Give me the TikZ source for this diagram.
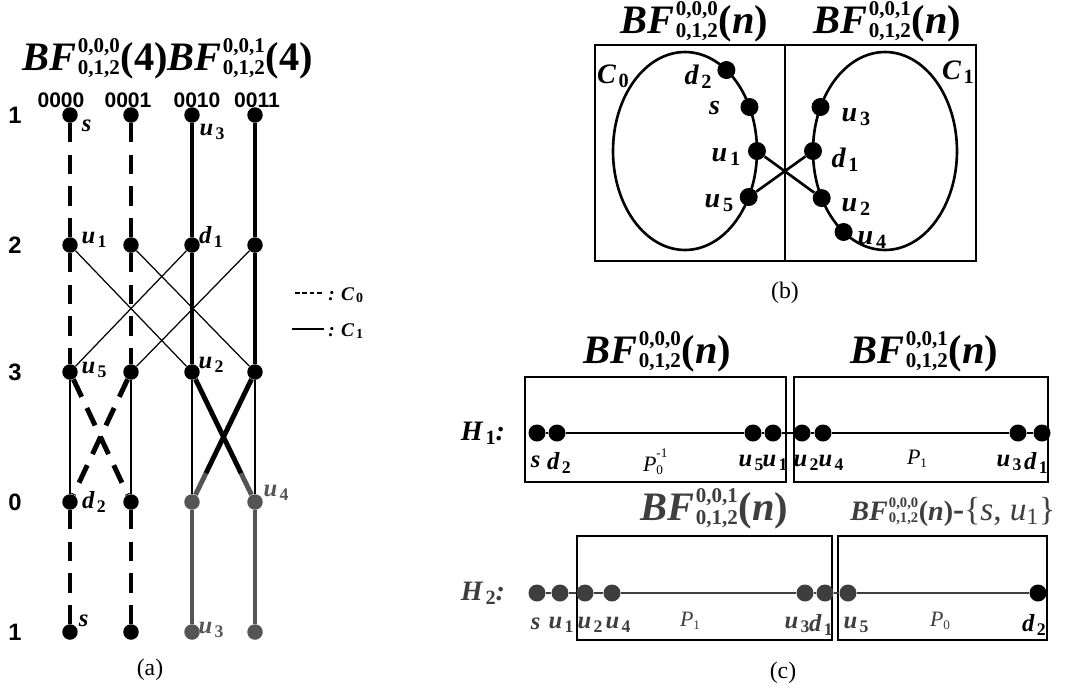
\documentclass[tikz,border=0pt]{standalone}
\usepackage{fontspec}
\usepackage{graphicx}
\setmainfont{Liberation Serif}
\setsansfont{Liberation Sans}
\usetikzlibrary{calc}
\definecolor{agray}{RGB}{85,85,85}
\definecolor{hgray}{RGB}{62,62,62}
\tikzset{
    dot/.style={circle, fill, inner sep=0pt, minimum size=0.31cm},
    bdot/.style={dot, minimum size=0.36cm},
    cdot/.style={dot, minimum size=0.34cm},
    cdash/.style={line width=2.8pt, dash pattern=on 11pt off 7pt},
    csolid/.style={line width=2.8pt},
    wire/.style={line width=0.7pt},
    curve/.style={line width=1.5pt},
    hpath/.style={line width=1.2pt},
    frame/.style={line width=0.85pt},
    lab/.style={font=\fontsize{14}{16}\selectfont\bfseries\itshape, inner sep=0pt},
    blab/.style={lab, font=\fontsize{16}{18}\selectfont\bfseries\itshape},
    clab/.style={lab, font=\fontsize{14}{16}\selectfont\bfseries\itshape},
    klab/.style={lab, font=\fontsize{11}{13}\selectfont\bfseries\itshape},
    hlab/.style={lab, font=\fontsize{16}{18}\selectfont\bfseries\itshape},
    plab/.style={font=\fontsize{12.5}{14}\selectfont\itshape, inner sep=0pt},
    title/.style={font=\fontsize{23}{25}\selectfont, inner sep=0pt, anchor=base west},
    rowlab/.style={font=\sffamily\bfseries\fontsize{13.5}{15}\selectfont, inner sep=0pt},
    collab/.style={font=\sffamily\bfseries\fontsize{12}{14}\selectfont, inner sep=0pt},
    capt/.style={font=\fontsize{13.5}{15}\selectfont, inner sep=0pt},
}
\newcommand{\subframe}[2]{
    \draw[frame] #1 rectangle #2;
}
\newcommand{\bfname}[2]{\textbf{\textit{BF}}\kern0.04em\rlap{\raisebox{0.43em}{\scalebox{0.52}{\bfseries\upshape #1}}}\raisebox{-0.1em}{\scalebox{0.52}{\bfseries\upshape 0,1,2}}\kern0.02em\textbf{(#2)}}
\newcommand{\lab}[2]{\textit{#1}\kern0.1em\raisebox{-0.3ex}{\scalebox{0.72}{\upshape #2}}}
\newcommand{\pname}[2]{\textit{P}\rlap{\raisebox{0.62em}{\scalebox{0.6}{\upshape #2}}}\raisebox{-0.15em}{\scalebox{0.6}{\upshape #1}}}

\begin{document}
\begin{tikzpicture}[x=0.02cm, y=-0.02cm]
    \useasboundingbox (0,0) rectangle (1076,698);

    % (a) the two halves of BF(4)
    \node[title] (ta0) at (22,70) {\bfname{0,0,0}{4}};
    \node[title] (ta1) at (167,70) {\bfname{0,0,1}{4}};
    \foreach \rw/\lbl/\y in {1/1/115,2/2/245,3/3/372,4/0/502,5/1/632}
        \node[rowlab] (row\rw) at (15,\y) {\lbl};
    \foreach \cl/\lbl/\tx in {a/0000/61,b/0001/128,c/0010/197,d/0011/257}
        \node[collab] (col\cl) at (\tx,100) {\lbl};
    \foreach \cl/\x/\clr in {a/70/black,b/131/black,c/192/agray,d/255/agray} {
        \foreach \rw/\y in {1/115,2/245,3/372}
            \node[dot] (\cl\rw) at (\x,\y) {};
        \foreach \rw/\y in {4/502,5/632}
            \node[dot, fill=\clr] (\cl\rw) at (\x,\y) {};
    }

    \foreach \cl in {a,b} {
        \draw[cdash] (\cl1) -- (\cl2);
        \draw[cdash] (\cl2) -- (\cl3);
        \draw[cdash] (\cl4) -- (\cl5);
    }
    \foreach \cl in {c,d} {
        \draw[csolid] (\cl1) -- (\cl2) -- (\cl3);
        \draw[csolid, agray] (\cl4) -- (\cl5);
    }
    \foreach \cl in {a,b,c,d}
        \draw[wire] (\cl3) -- (\cl4);
    \draw[wire] (a2) -- (c3);
    \draw[wire] (b2) -- (d3);
    \draw[wire] (c2) -- (a3);
    \draw[wire] (d2) -- (b3);
    \draw[cdash] (a3) -- (b4);
    \draw[cdash] (b3) -- (a4);
    \coordinate (mc) at ($(c3)!0.78!(d4)$);
    \coordinate (md) at ($(d3)!0.78!(c4)$);
    \draw[csolid] (c3) -- (mc);
    \draw[csolid, agray] (mc) -- (d4);
    \draw[csolid] (d3) -- (md);
    \draw[csolid, agray] (md) -- (c4);

    \node[lab] (las) at (88,127) {\lab{s}{}};
    \node[lab] (lau3) at (212,132) {\lab{u}{3}};
    \node[lab] (lau1) at (94,240) {\lab{u}{1}};
    \node[lab] (lad1) at (211,237) {\lab{d}{1}};
    \node[lab] (lau5) at (94,370) {\lab{u}{5}};
    \node[lab] (lau2) at (211,365) {\lab{u}{2}};
    \node[lab] (lad2) at (94,502) {\lab{d}{2}};
    \node[lab, agray] (lau4) at (276,493) {\lab{u}{4}};
    \node[lab] (lasb) at (85,622) {\lab{s}{}};
    \node[lab, agray] (lau3b) at (211,630) {\lab{u}{3}};

    % legend
    \coordinate (k0a) at (295,293);
    \coordinate (k0b) at (323,293);
    \coordinate (k1a) at (292,329);
    \coordinate (k1b) at (324,329);
    \draw[line width=1.2pt, dash pattern=on 2.6pt off 1.6pt] (k0a) -- (k0b);
    \draw[line width=1.6pt] (k1a) -- (k1b);
    \node[klab, anchor=west] (k0) at (328,295) {: \lab{C}{0}};
    \node[klab, anchor=west] (k1) at (328,331) {: \lab{C}{1}};
    \node[capt] (capa) at (150,670) {(a)};

    % (b) the two cycles
    \subframe{(595,45)}{(785,261)}
    \subframe{(785,45)}{(976,261)}
    \node[title] (tb0) at (620,33) {\bfname{0,0,0}{\textit{n}}};
    \node[title] (tb1) at (813,33) {\bfname{0,0,1}{\textit{n}}};
    \coordinate (cl) at (685,151);
    \coordinate (cr) at (885,151);
    \draw[curve] (cl) ellipse [x radius=1.44cm, y radius=1.98cm];
    \draw[curve] (cr) ellipse [x radius=1.44cm, y radius=1.98cm];
    \foreach \nm/\ang in {d2/54.9,s/26.4,u1/0,u5/-27.7}
        \node[bdot] (b\nm) at ($(cl)+(\ang:1.44cm and 1.98cm)$) {};
    \foreach \nm/\ang in {u3/153.6,d1/180,u2/208.4,u4/234.9}
        \node[bdot] (b\nm) at ($(cr)+(\ang:1.44cm and 1.98cm)$) {};
    \draw[curve] (bu1) -- (bu2);
    \draw[curve] (bu5) -- (bd1);
    \node[blab] (bld2) at (698,77) {\lab{d}{2}};
    \node[blab] (bls) at (716,110) {\lab{s}{}};
    \node[blab] (blu1) at (726,157) {\lab{u}{1}};
    \node[blab] (blu5) at (719,203) {\lab{u}{5}};
    \node[blab] (blu3) at (856,117) {\lab{u}{3}};
    \node[blab] (bld1) at (845,160) {\lab{d}{1}};
    \node[blab] (blu2) at (856,207) {\lab{u}{2}};
    \node[blab] (blu4) at (872,240) {\lab{u}{4}};
    \node[blab] (bc0) at (613,76) {\lab{C}{0}};
    \node[blab] (bc1) at (958,72) {\lab{C}{1}};
    \node[capt] (capb) at (785,293) {(b)};

    % (c) the two paths H1 and H2
    \node[hlab] (h1) at (483,433) {\lab{H}{1}:};
    \subframe{(525,377)}{(786,482)}
    \subframe{(794,377)}{(1048,482)}
    \node[title] (tc0) at (583,363) {\bfname{0,0,0}{\textit{n}}};
    \node[title] (tc1) at (850,363) {\bfname{0,0,1}{\textit{n}}};
    \foreach \nm/\x in {s/537,d2/557,u5/753,u1/773,u2/802,u4/823,u3/1018,d1/1042}
        \node[cdot] (h1\nm) at (\x,433) {};
    \draw[hpath] (h1s) -- (h1d2) -- (h1u5) -- (h1u1) -- (h1u2) -- (h1u4) -- (h1u3) -- (h1d1);
    \node[clab] (l1s) at (537,463) {\lab{s}{}};
    \node[clab] (l1d2) at (559,463) {\lab{d}{2}};
    \node[clab] (l1u5) at (751,463) {\lab{u}{5}};
    \node[clab] (l1u1) at (775,463) {\lab{u}{1}};
    \node[clab] (l1u2) at (806,463) {\lab{u}{2}};
    \node[clab] (l1u4) at (831,463) {\lab{u}{4}};
    \node[clab] (l1u3) at (1009,463) {\lab{u}{3}};
    \node[clab] (l1d1) at (1036,463) {\lab{d}{1}};
    \node[plab] (p0) at (653,462) {\pname{0}{-1}};
    \node[plab] (p1) at (917,459) {\pname{1}{}};

    \node[hlab, hgray] (h2) at (483,593) {\lab{H}{2}:};
    \subframe{(577,536)}{(832,640)}
    \subframe{(838,536)}{(1047,640)}
    \node[title, hgray] (tc2) at (640,520) {\bfname{0,0,1}{\textit{n}}};
    \node[title, hgray, font=\fontsize{16}{18}\selectfont] (tc3) at (850,520)
        {\bfname{0,0,0}{\textit{n}}{\fontsize{19}{21}\selectfont\textbf{-}\{\textit{s}, \textit{u}\textsubscript{1}\}}};
    \foreach \nm/\x in {s/537,u1/560,u2/585,u4/612,u3/805,d1/825,u5/848}
        \node[cdot, fill=hgray] (h2\nm) at (\x,593) {};
    \node[cdot] (h2d2) at (1038,593) {};
    \draw[hpath, hgray] (h2s) -- (h2u1) -- (h2u2) -- (h2u4) -- (h2u3) -- (h2d1) -- (h2u5) -- (h2d2);
    \node[clab, hgray] (l2s) at (537,625) {\lab{s}{}};
    \node[clab, hgray] (l2u1) at (561,625) {\lab{u}{1}};
    \node[clab, hgray] (l2u2) at (590,625) {\lab{u}{2}};
    \node[clab, hgray] (l2u4) at (618,625) {\lab{u}{4}};
    \node[clab, hgray] (l2u3) at (797,625) {\lab{u}{3}};
    \node[clab, hgray] (l2d1) at (821,625) {\lab{d}{1}};
    \node[clab, hgray] (l2u5) at (856,625) {\lab{u}{5}};
    \node[clab] (l2d2) at (1034,625) {\lab{d}{2}};
    \node[plab, hgray] (p2) at (690,621) {\pname{1}{}};
    \node[plab, hgray] (p3) at (940,621) {\pname{0}{}};
    \node[capt] (capc) at (783,673) {(c)};
\end{tikzpicture}
\end{document}
